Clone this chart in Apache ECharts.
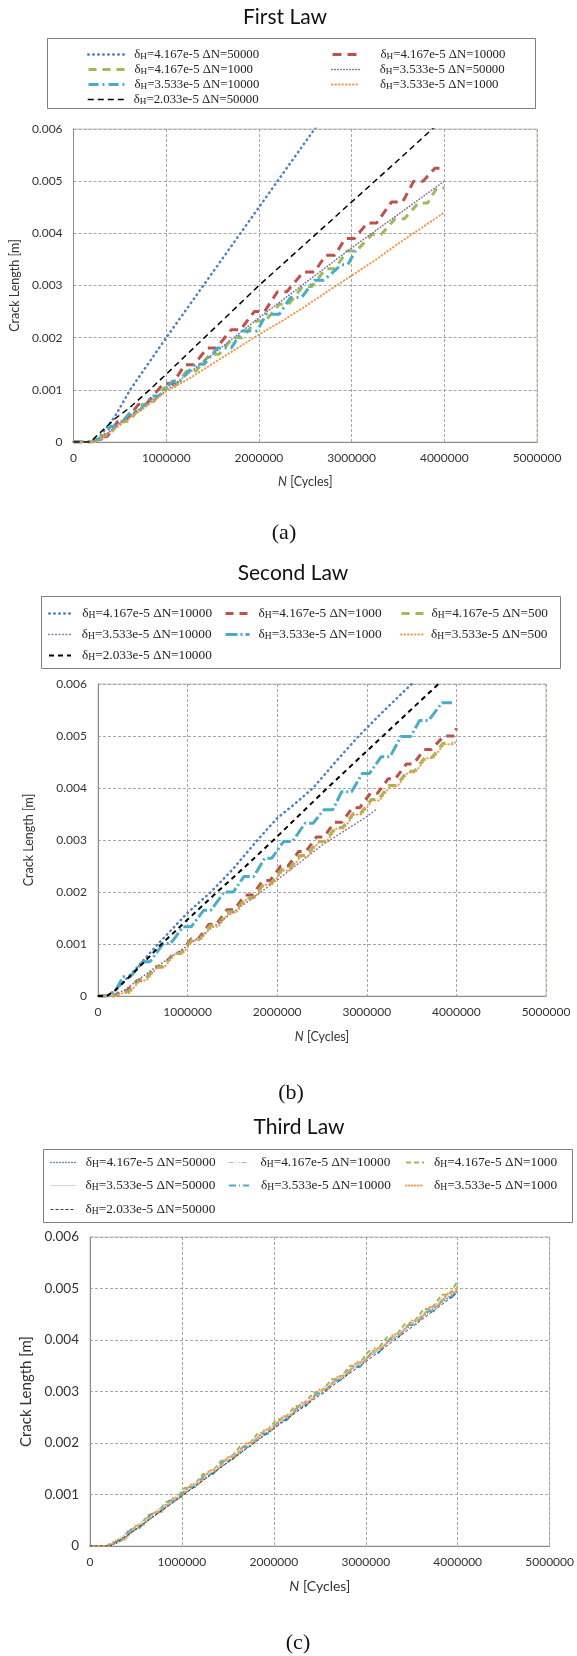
<!DOCTYPE html>
<html>
<head>
<meta charset="utf-8">
<script src="https://cdn.jsdelivr.net/npm/echarts@6/dist/echarts.min.js"></script>
<style>
  html, body { margin: 0; padding: 0; background: #ffffff; }
  #chart { width: 577px; height: 1656px; }
</style>
</head>
<body>
<div id="chart"></div>
<script>
// ---------- axes ----------
const cycleTicks = [0, 1000000, 2000000, 3000000, 4000000, 5000000];
const lengthTicks = [0, 0.001, 0.002, 0.003, 0.004, 0.005, 0.006];
const panelTitles = ['First Law', 'Second Law', 'Third Law'];
const panelTags = ['(a)', '(b)', '(c)'];

// ---------- legend labels (series order) ----------
const firstLawLabels = ['δH=4.167e-5 ΔN=50000', 'δH=4.167e-5 ΔN=10000', 'δH=4.167e-5 ΔN=1000',
  'δH=3.533e-5 ΔN=50000', 'δH=3.533e-5 ΔN=10000', 'δH=3.533e-5 ΔN=1000', 'δH=2.033e-5 ΔN=50000'];
const secondLawLabels = ['δH=4.167e-5 ΔN=10000', 'δH=4.167e-5 ΔN=1000', 'δH=4.167e-5 ΔN=500',
  'δH=3.533e-5 ΔN=10000', 'δH=3.533e-5 ΔN=1000', 'δH=3.533e-5 ΔN=500', 'δH=2.033e-5 ΔN=10000'];
const thirdLawLabels = ['δH=4.167e-5 ΔN=50000', 'δH=4.167e-5 ΔN=10000', 'δH=4.167e-5 ΔN=1000',
  'δH=3.533e-5 ΔN=50000', 'δH=3.533e-5 ΔN=10000', 'δH=3.533e-5 ΔN=1000', 'δH=2.033e-5 ΔN=50000'];

// ---------- First Law: [cycles, crack length m] ----------
const firstLawBlue = [[0,0],[150000,0],[250000,0.00003],[450000,0.0005],[610000,0.001],[1000000,0.002],
  [1400000,0.003],[1800000,0.004],[2200000,0.005],[2600000,0.006],[2700000,0.00625]];
const firstLawRed = [[0,0],[200000,0],[300000,0.0001],[360000,0.0001],[480000,0.0004],[560000,0.0004],
  [700000,0.00072],[780000,0.00072],[970000,0.00112],[1070000,0.00112],[1200000,0.00148],[1300000,0.00148],
  [1440000,0.0018],[1540000,0.0018],[1700000,0.00215],[1800000,0.00215],[1950000,0.0025],[2060000,0.0025],
  [2200000,0.00288],[2300000,0.00288],[2480000,0.00326],[2600000,0.00326],[2720000,0.00358],[2820000,0.00358],
  [2930000,0.0039],[3030000,0.0039],[3170000,0.0042],[3270000,0.0042],[3430000,0.0046],[3550000,0.0046],
  [3670000,0.005],[3770000,0.005],[3900000,0.00525],[4000000,0.00525]];
const firstLawGreen = [[0,0],[200000,0],[300000,0.00012],[380000,0.00012],[500000,0.0004],[600000,0.0004],
  [740000,0.00072],[840000,0.00072],[980000,0.00104],[1080000,0.00104],[1220000,0.00136],[1320000,0.00136],
  [1470000,0.00168],[1570000,0.00168],[1720000,0.002],[1820000,0.002],[1970000,0.00232],[2070000,0.00232],
  [2220000,0.00264],[2320000,0.00264],[2470000,0.00298],[2570000,0.00298],[2720000,0.00332],[2820000,0.00332],
  [2950000,0.00366],[3050000,0.00366],[3220000,0.00398],[3320000,0.00398],[3470000,0.00428],[3570000,0.00428],
  [3720000,0.00458],[3820000,0.00458],[3920000,0.00487],[4000000,0.00487]];
const firstLawPurple = [[0,0],[200000,0],[350000,0.00015],[600000,0.0005],[1000000,0.00098],[1500000,0.00168],
  [2000000,0.00238],[2500000,0.00305],[3000000,0.00372],[3500000,0.00436],[4000000,0.005]];
const firstLawCyan = [[0,0],[200000,0],[250000,0.00005],[300000,0.00005],[400000,0.0003],[480000,0.0003],
  [620000,0.00058],[700000,0.00058],[850000,0.00088],[920000,0.00088],[1070000,0.00117],[1150000,0.00117],
  [1310000,0.00149],[1410000,0.00149],[1550000,0.0018],[1700000,0.0018],[1820000,0.00213],[1980000,0.00213],
  [2080000,0.00245],[2220000,0.00245],[2340000,0.00277],[2460000,0.00277],[2600000,0.0031],[2700000,0.0031],
  [2890000,0.0034],[2960000,0.0034],[3050000,0.0037]];
const firstLawOrange = [[0,0],[250000,0],[400000,0.0002],[600000,0.00045],[800000,0.0007],[1000000,0.00097],
  [1250000,0.00122],[1500000,0.0015],[1750000,0.00178],[2000000,0.00206],[2250000,0.00232],[2500000,0.0026],
  [2750000,0.0029],[3000000,0.00319],[3250000,0.00348],[3500000,0.0038],[3750000,0.0041],[4000000,0.0044]];
const firstLawBlack = [[0,0],[180000,0],[300000,0.0002],[450000,0.00045],[600000,0.00065],[820000,0.001],
  [1000000,0.0013],[1500000,0.00215],[2000000,0.003],[2500000,0.0038],[3000000,0.0046],[3500000,0.0054],
  [3870000,0.006],[3950000,0.0061]];

// ---------- Second Law ----------
const secondLawBlue = [[0,0],[100000,0],[200000,0.00012],[400000,0.00048],[670000,0.001],[1000000,0.0016],
  [1260000,0.002],[1500000,0.00243],[1780000,0.003],[2000000,0.00342],[2200000,0.0037],[2400000,0.004],
  [2650000,0.0045],[2910000,0.005],[3200000,0.0055],[3500000,0.006],[3600000,0.0062]];
const secondLawRed = [[0,0],[180000,0],[260000,0.0001],[320000,0.0001],[440000,0.0003],[520000,0.0003],
  [640000,0.00056],[720000,0.00056],[840000,0.00082],[920000,0.00082],[1040000,0.0011],[1120000,0.0011],
  [1240000,0.00138],[1320000,0.00138],[1440000,0.00166],[1520000,0.00166],[1640000,0.00194],[1720000,0.00194],
  [1840000,0.00222],[1920000,0.00222],[2040000,0.0025],[2120000,0.0025],[2240000,0.00278],[2320000,0.00278],
  [2440000,0.00306],[2520000,0.00306],[2640000,0.00334],[2720000,0.00334],[2840000,0.00362],[2920000,0.00362],
  [3040000,0.0039],[3120000,0.0039],[3240000,0.00418],[3320000,0.00418],[3440000,0.00446],[3520000,0.00446],
  [3640000,0.00474],[3720000,0.00474],[3860000,0.005],[3980000,0.005],[4000000,0.00515]];
const secondLawGreen = [[0,0],[180000,0],[270000,0.00008],[340000,0.00008],[460000,0.00032],[530000,0.00032],
  [650000,0.00057],[730000,0.00057],[850000,0.00083],[930000,0.00083],[1050000,0.00109],[1130000,0.00109],
  [1250000,0.00135],[1330000,0.00135],[1450000,0.00162],[1530000,0.00162],[1650000,0.00189],[1730000,0.00189],
  [1850000,0.00216],[1930000,0.00216],[2050000,0.00243],[2130000,0.00243],[2250000,0.0027],[2330000,0.0027],
  [2450000,0.00297],[2530000,0.00297],[2650000,0.00324],[2730000,0.00324],[2850000,0.00351],[2930000,0.00351],
  [3050000,0.00378],[3130000,0.00378],[3250000,0.00405],[3330000,0.00405],[3450000,0.00432],[3530000,0.00432],
  [3650000,0.00459],[3730000,0.00459],[3850000,0.00486],[3960000,0.00486]];
const secondLawPurple = [[0,0],[150000,0],[300000,0.00012],[600000,0.0005],[1000000,0.00097],[1500000,0.0016],
  [2000000,0.00223],[2500000,0.0029],[3000000,0.00345],[3100000,0.00358]];
const secondLawCyan = [[0,0],[120000,0],[200000,0.00012],[280000,0.00037],[360000,0.00037],[500000,0.00066],
  [580000,0.00066],[730000,0.00101],[810000,0.00101],[950000,0.00133],[1040000,0.00133],[1180000,0.00165],
  [1260000,0.00165],[1410000,0.002],[1510000,0.002],[1630000,0.0023],[1740000,0.0023],[1860000,0.00265],
  [1940000,0.00265],[2070000,0.00297],[2170000,0.00297],[2310000,0.00332],[2400000,0.00332],[2520000,0.00358],
  [2620000,0.00358],[2720000,0.00393],[2830000,0.00393],[2950000,0.00428],[3030000,0.00428],[3160000,0.0046],
  [3260000,0.0046],[3380000,0.00499],[3490000,0.00499],[3590000,0.0053],[3690000,0.0053],[3840000,0.00564],
  [3950000,0.00564]];
const secondLawOrange = [[0,0],[200000,0],[280000,0.00006],[350000,0.00006],[470000,0.0003],[540000,0.0003],
  [660000,0.00055],[740000,0.00055],[860000,0.00081],[940000,0.00081],[1060000,0.00107],[1140000,0.00107],
  [1260000,0.00133],[1340000,0.00133],[1460000,0.0016],[1540000,0.0016],[1660000,0.00187],[1740000,0.00187],
  [1860000,0.00214],[1940000,0.00214],[2060000,0.00241],[2140000,0.00241],[2260000,0.00268],[2340000,0.00268],
  [2460000,0.00295],[2540000,0.00295],[2660000,0.00322],[2740000,0.00322],[2860000,0.00349],[2940000,0.00349],
  [3060000,0.00376],[3140000,0.00376],[3260000,0.00403],[3340000,0.00403],[3460000,0.0043],[3540000,0.0043],
  [3660000,0.00457],[3740000,0.00457],[3860000,0.00484],[3960000,0.00484],[4000000,0.0049]];
const secondLawBlack = [[0,0],[100000,0],[200000,0.00012],[400000,0.00045],[710000,0.001],[1000000,0.00147],
  [1330000,0.002],[1650000,0.0025],[1960000,0.003],[2260000,0.0035],[2560000,0.004],[2870000,0.0045],
  [3180000,0.005],[3490000,0.0055],[3800000,0.006],[3900000,0.00616]];

// ---------- Third Law ----------
const thirdLawBlue = [[0,0],[200000,0],[300000,0.00006],[500000,0.00032],[1000000,0.00098],[1500000,0.00163],
  [2000000,0.0023],[2500000,0.00297],[3000000,0.00363],[3500000,0.0043],[4000000,0.00496]];
const thirdLawRed = [[0,0],[200000,0],[400000,0.00026],[1000000,0.00105],[1500000,0.00171],[2000000,0.00237],
  [2500000,0.00302],[3000000,0.00366],[3500000,0.00434],[4000000,0.00503]];
const thirdLawGreen = [[0,0],[180000,0],[250000,0.00008],[320000,0.00008],[430000,0.00032],[510000,0.00032],
  [630000,0.0006],[710000,0.0006],[830000,0.00086],[910000,0.00086],[1030000,0.00113],[1110000,0.00113],
  [1230000,0.0014],[1310000,0.0014],[1430000,0.00166],[1510000,0.00166],[1630000,0.00193],[1710000,0.00193],
  [1830000,0.0022],[1910000,0.0022],[2030000,0.00246],[2110000,0.00246],[2230000,0.00272],[2310000,0.00272],
  [2430000,0.00298],[2510000,0.00298],[2630000,0.00324],[2710000,0.00324],[2830000,0.0035],[2910000,0.0035],
  [3030000,0.00378],[3110000,0.00378],[3230000,0.00405],[3310000,0.00405],[3430000,0.00432],[3510000,0.00432],
  [3630000,0.0046],[3710000,0.0046],[3830000,0.00488],[3910000,0.00488],[4000000,0.00515]];
const thirdLawGray = [[0,0],[200000,0],[400000,0.00024],[1000000,0.00102],[2000000,0.00234],[3000000,0.00363],
  [4000000,0.005]];
const thirdLawCyan = [[0,0],[200000,0],[280000,0.0001],[340000,0.0001],[460000,0.00035],[540000,0.00035],
  [660000,0.00062],[740000,0.00062],[860000,0.00088],[940000,0.00088],[1060000,0.00114],[1140000,0.00114],
  [1260000,0.0014],[1340000,0.0014],[1460000,0.00166],[1540000,0.00166],[1660000,0.00192],[1740000,0.00192],
  [1860000,0.00218],[1940000,0.00218],[2060000,0.00244],[2140000,0.00244],[2260000,0.0027],[2340000,0.0027],
  [2460000,0.00296],[2540000,0.00296],[2660000,0.00322],[2740000,0.00322],[2860000,0.00348],[2940000,0.00348],
  [3060000,0.00375],[3140000,0.00375],[3260000,0.00402],[3340000,0.00402],[3460000,0.00429],[3540000,0.00429],
  [3660000,0.00456],[3740000,0.00456],[3860000,0.00483],[3940000,0.00483],[4000000,0.005]];
const thirdLawOrange = [[0,0],[200000,0],[300000,0.00012],[380000,0.00012],[500000,0.0004],[580000,0.0004],
  [700000,0.00066],[780000,0.00066],[900000,0.00093],[980000,0.00093],[1100000,0.0012],[1180000,0.0012],
  [1300000,0.00147],[1380000,0.00147],[1500000,0.00173],[1580000,0.00173],[1700000,0.002],[1780000,0.002],
  [1900000,0.00226],[1980000,0.00226],[2100000,0.00252],[2180000,0.00252],[2300000,0.00278],[2380000,0.00278],
  [2500000,0.00304],[2580000,0.00304],[2700000,0.0033],[2780000,0.0033],[2900000,0.00357],[2980000,0.00357],
  [3100000,0.00384],[3180000,0.00384],[3300000,0.00411],[3380000,0.00411],[3500000,0.00438],[3580000,0.00438],
  [3700000,0.00465],[3780000,0.00465],[3900000,0.00492],[3980000,0.00492],[4000000,0.00508]];
const thirdLawNavy = [[0,0],[220000,0],[400000,0.0002],[1000000,0.00097],[2000000,0.00228],[3000000,0.00358],
  [4000000,0.00492]];

// ---------- styling & layout ----------
const SANS = 'Lato, "Open Sans", sans-serif';
const SERIF = '"Liberation Serif", "DejaVu Serif", serif';

const dot = (color, width, gap) => ({ color, width, type: [0.5, gap], cap: 'round' });
const dash = (color, width, pattern) => ({ color, width, type: pattern, cap: 'butt' });

const panels = [
  {
    key: 'a', labels: firstLawLabels,
    data: [firstLawBlue, firstLawRed, firstLawGreen, firstLawPurple, firstLawCyan, firstLawOrange, firstLawBlack],
    styles: [dot('#4F81BD', 2.5, 4.5), dash('#C0504D', 3, [9, 6]), dash('#9BBB59', 3, [8, 6]),
      dot('#8064A2', 1.5, 2.5), dash('#4BACC6', 3, [10, 4, 2, 4]), dot('#F79646', 2, 3), dash('#000000', 1.5, [6, 4])],
    grid: { left: 73, top: 129, width: 464, height: 313 },
    title: { x: 285, y: 17 }, tag: { x: 284, y: 533 },
    box: { x: 47, y: 38, w: 488, h: 70 },
    cols: 2, iconX: [87, 331], iconW: [36, 28], textX: [133, 379], rowY: [55, 70, 85, 100], legendFont: 12.8,
    tickFontY: 12, tickFontX: 12, xNameFont: 12.5, yNameFont: 12.5, yNameGap: 47, xNameGap: 33
  },
  {
    key: 'b', labels: secondLawLabels,
    data: [secondLawBlue, secondLawRed, secondLawGreen, secondLawPurple, secondLawCyan, secondLawOrange, secondLawBlack],
    styles: [dot('#4F81BD', 2.5, 4.5), dash('#C0504D', 3, [8, 6]), dash('#9BBB59', 3, [8, 6]),
      dot('#8064A2', 1.5, 3), dash('#4BACC6', 3, [12, 3, 2, 3]), dot('#F79646', 2, 3), dash('#000000', 2, [5, 4])],
    grid: { left: 98, top: 684, width: 448, height: 312 },
    title: { x: 293, y: 573 }, tag: { x: 291, y: 1093 },
    box: { x: 41, y: 596, w: 519, h: 72 },
    cols: 3, iconX: [48, 224, 400], iconW: [22, 24, 22], textX: [81, 257, 430], rowY: [614, 635, 656], legendFont: 13.3,
    tickFontY: 12, tickFontX: 12, xNameFont: 12.5, yNameFont: 12.5, yNameGap: 63, xNameGap: 34
  },
  {
    key: 'c', labels: thirdLawLabels,
    data: [thirdLawBlue, thirdLawRed, thirdLawGreen, thirdLawGray, thirdLawCyan, thirdLawOrange, thirdLawNavy],
    styles: [dot('#4F81BD', 1.5, 2.5), dash('#E3A3A1', 1, [5, 2, 1, 2, 1, 2]), dash('#9BBB59', 2, [5, 3]),
      dash('#D5D1E3', 1, 'solid'), dash('#4BACC6', 2, [7, 3, 1, 3]), dot('#F79646', 2, 2.5), dash('#2E3A55', 1, [3, 2])],
    grid: { left: 90, top: 1237, width: 461, height: 309 },
    title: { x: 299, y: 1127 }, tag: { x: 298, y: 1643 },
    box: { x: 43, y: 1149, w: 529, h: 73 },
    cols: 3, iconX: [50, 228, 405], iconW: [25, 20, 18], textX: [85, 260, 433], rowY: [1163, 1186, 1210], legendFont: 13.3,
    tickFontY: 13.5, tickFontX: 12, xNameFont: 14, yNameFont: 15, yNameGap: 37, xNameGap: 33
  }
];

const grids = [], xAxes = [], yAxes = [], series = [], legends = [], graphics = [];

panels.forEach((p, pi) => {
  grids.push({ left: p.grid.left, top: p.grid.top, width: p.grid.width, height: p.grid.height,
    show: true, borderColor: '#C6C6B8', borderWidth: 1, backgroundColor: 'transparent' });

  xAxes.push({
    type: 'value', gridIndex: pi, min: cycleTicks[0], max: cycleTicks[cycleTicks.length - 1],
    interval: cycleTicks[1] - cycleTicks[0],
    axisLine: { show: true, lineStyle: { color: '#8C8C8C', width: 1 } },
    axisTick: { show: false },
    axisLabel: { color: '#333333', fontFamily: SANS, fontSize: p.tickFontX, margin: 10, formatter: v => String(v) },
    splitLine: { show: true, lineStyle: { color: '#A6A6A6', width: 1, type: [3, 2] } },
    name: '{i|N} [Cycles]', nameLocation: 'middle', nameGap: p.xNameGap,
    nameTextStyle: { color: '#333333', fontFamily: SANS, fontSize: p.xNameFont,
      rich: { i: { fontStyle: 'italic', fontFamily: SANS, fontSize: p.xNameFont, color: '#333333' } } }
  });

  yAxes.push({
    type: 'value', gridIndex: pi, min: lengthTicks[0], max: lengthTicks[lengthTicks.length - 1],
    interval: lengthTicks[1] - lengthTicks[0],
    axisLine: { show: true, lineStyle: { color: '#8C8C8C', width: 1 } },
    axisTick: { show: false },
    axisLabel: { color: '#333333', fontFamily: SANS, fontSize: p.tickFontY, margin: 11,
      formatter: v => (v === 0 ? '0' : v.toFixed(3)) },
    splitLine: { show: true, lineStyle: { color: '#A6A6A6', width: 1, type: [3, 2] } },
    name: 'Crack Length [m]', nameLocation: 'middle', nameGap: p.yNameGap,
    nameTextStyle: { color: '#333333', fontFamily: SANS, fontSize: p.yNameFont }
  });

  p.data.forEach((d, si) => {
    const id = p.key + ':' + p.labels[si];
    const st = p.styles[si];
    series.push({
      type: 'line', name: id, xAxisIndex: pi, yAxisIndex: pi, data: d,
      symbol: 'none', clip: true, smooth: false, animation: false,
      lineStyle: { color: st.color, width: st.width, type: st.type, cap: st.cap },
      itemStyle: { color: st.color }, emphasis: { disabled: true }
    });

    const col = si % p.cols, row = Math.floor(si / p.cols);
    const ih = 14;
    legends.push({
      data: [id], selectedMode: false, padding: 0, itemGap: 0,
      left: p.iconX[col], top: p.rowY[row] - ih / 2,
      itemWidth: p.iconW[col], itemHeight: ih,
      lineStyle: { color: st.color, width: st.width, type: st.type, cap: st.cap },
      itemStyle: { opacity: 0 },
      formatter: n => '{t|δ}{s|H}{t|' + n.slice(4) + '}',
      textStyle: {
        padding: [0, 0, 0, p.textX[col] - p.iconX[col] - p.iconW[col] - 5],
        rich: {
          t: { fontFamily: SERIF, fontSize: p.legendFont, color: '#222222', lineHeight: ih },
          s: { fontFamily: SERIF, fontSize: p.legendFont * 0.72, color: '#222222', lineHeight: ih, verticalAlign: 'bottom' }
        }
      }
    });
  });

  graphics.push({
    type: 'rect', silent: true,
    shape: { x: p.box.x + 0.5, y: p.box.y + 0.5, width: p.box.w, height: p.box.h },
    style: { fill: 'none', stroke: '#7F7F7F', lineWidth: 1 }
  });
  graphics.push({
    type: 'text', silent: true, x: p.title.x, y: p.title.y,
    style: { text: panelTitles[pi], fontFamily: SANS, fontSize: 21, fill: '#111111', align: 'center', verticalAlign: 'middle' }
  });
  graphics.push({
    type: 'text', silent: true, x: p.tag.x, y: p.tag.y,
    style: { text: panelTags[pi], fontFamily: SERIF, fontSize: 22, fill: '#111111', align: 'center', verticalAlign: 'middle' }
  });
});

const chart = echarts.init(document.getElementById('chart'), null, { renderer: 'canvas' });
chart.setOption({
  animation: false,
  backgroundColor: '#ffffff',
  grid: grids, xAxis: xAxes, yAxis: yAxes,
  series: series, legend: legends, graphic: graphics
});
</script>
</body>
</html>
